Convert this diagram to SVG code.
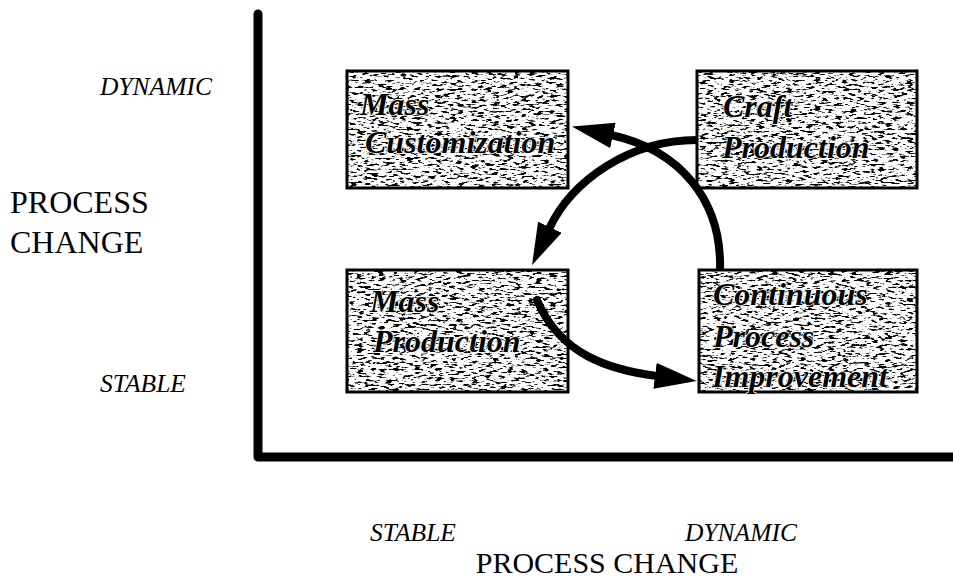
<svg xmlns="http://www.w3.org/2000/svg" width="953" height="580" viewBox="0 0 953 580">
<style>
.axis{fill:none;stroke:#000;stroke-width:9;stroke-linejoin:round;stroke-linecap:round}
.lbl{font-family:"Liberation Serif","Times New Roman",serif;font-style:italic;font-size:25.5px;fill:#000}
.title{font-family:"Liberation Serif","Times New Roman",serif;font-size:32px;fill:#000}
.tex{fill:#fff;filter:url(#grain)}
.frame{fill:none;stroke:#000;stroke-width:3}
.nt{font-family:"Liberation Serif","Times New Roman",serif;font-style:italic;font-weight:bold;font-size:32px;fill:#000;stroke:#fff;stroke-width:1.5;paint-order:stroke}
.arr{fill:none;stroke:#000;stroke-width:8}
</style>
<defs>
<filter id="grain" x="0" y="0" width="1" height="1" color-interpolation-filters="sRGB">
<feTurbulence type="fractalNoise" baseFrequency="0.14 0.45" numOctaves="3" seed="7" result="n"/>
<feColorMatrix in="n" type="matrix" values="0 0 0 0 0  0 0 0 0 0  0 0 0 0 0  9 0 0 0 -4.8" result="sp"/>
<feComposite in="sp" in2="SourceGraphic" operator="in" result="spc"/>
<feMerge><feMergeNode in="SourceGraphic"/><feMergeNode in="spc"/></feMerge>
</filter>
<marker id="ah" viewBox="0 0 42 26" refX="2" refY="13" markerWidth="42" markerHeight="26" markerUnits="userSpaceOnUse" orient="auto">
<path d="M0,0 L42,13 L0,26 Z" fill="#000"/>
</marker>
</defs>
<rect width="953" height="580" fill="#fff"/>
<g id="axes">
<path class="axis" d="M258 14 V457 H953"/>
</g>
<g id="axis-labels">
<text class="lbl" x="100" y="95">DYNAMIC</text>
<text class="title" x="10" y="213">PROCESS</text>
<text class="title" x="10" y="253">CHANGE</text>
<text class="lbl" x="100" y="392">STABLE</text>
<text class="lbl" x="370" y="541">STABLE</text>
<text class="lbl" x="685" y="541">DYNAMIC</text>
<text class="title" x="607" y="573" text-anchor="middle" style="font-size:30px">PROCESS CHANGE</text>
</g>
<g id="mass-customization">
<rect class="tex" x="347" y="71" width="221" height="117"/>
<rect class="frame" x="347" y="71" width="221" height="117"/>
<text class="nt" x="360" y="115">Mass</text>
<text class="nt" x="365" y="153">Customization</text>
</g>
<g id="craft-production">
<rect class="tex" x="697" y="71" width="220" height="117"/>
<rect class="frame" x="697" y="71" width="220" height="117"/>
<text class="nt" x="723" y="117">Craft</text>
<text class="nt" x="722" y="158">Production</text>
</g>
<g id="mass-production">
<rect class="tex" x="347" y="270" width="221" height="122"/>
<rect class="frame" x="347" y="270" width="221" height="122"/>
<text class="nt" x="370" y="312">Mass</text>
<text class="nt" x="373" y="352">Production</text>
</g>
<g id="continuous-process-improvement">
<rect class="tex" x="699" y="270" width="218" height="122"/>
<rect class="frame" x="699" y="270" width="218" height="122"/>
<text class="nt" x="713" y="305">Continuous</text>
<text class="nt" x="713" y="347">Process</text>
<text class="nt" x="712" y="387">Improvement</text>
</g>
<g id="connectors">
<path class="arr" d="M697 140 C630 140 572 180 549 229" marker-end="url(#ah)"/>
<path class="arr" d="M720 270 C722 200 680 150 611 135" marker-end="url(#ah)"/>
<path class="arr" stroke-linecap="round" d="M537 300 C560 355 610 370 657 376" marker-end="url(#ah)"/>
</g>
</svg>
